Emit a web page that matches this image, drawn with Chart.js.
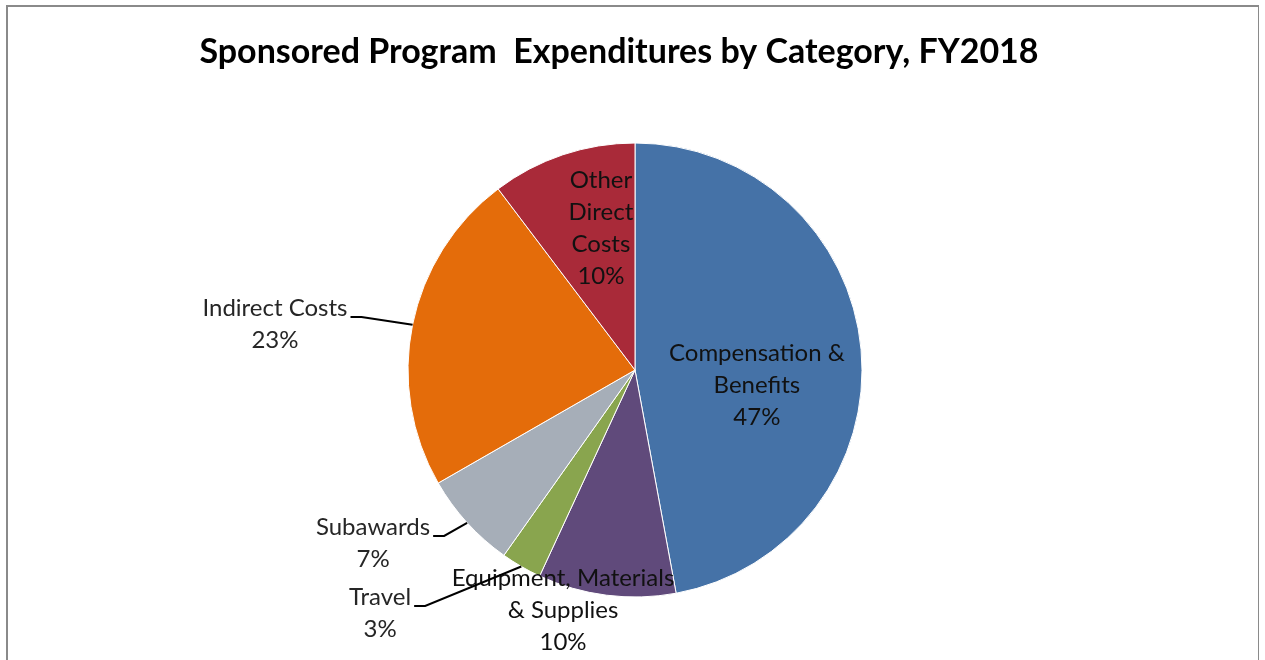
<!DOCTYPE html>
<html>
<head>
<meta charset="utf-8">
<script src="https://cdn.jsdelivr.net/npm/chart.js@4"></script>
<style>
  body { margin: 0; background: #fff; overflow: hidden; }
  #frame {
    position: absolute; left: 6px; top: 5px; width: 1250px; height: 700px;
    border-left: 2px solid #8a8a8a; border-top: 2px solid #8a8a8a; border-right: 1px solid #8a8a8a;
  }
  canvas { position: absolute; left: 0; top: 0; }
</style>
</head>
<body>
<div id="frame"></div>
<canvas id="pie" width="1265" height="660"></canvas>
<script>
var title = "Sponsored Program  Expenditures by Category, FY2018";

// clockwise from 12 o'clock
var categories = [
    ["Compensation &", "Benefits"],
    ["Equipment, Materials", "& Supplies"],
    ["Travel"],
    ["Subawards"],
    ["Indirect Costs"],
    ["Other", "Direct", "Costs"]
];
var shares = [47.1, 9.8, 2.9, 6.9, 23.0, 10.3];
var colors = [
    "#4572A7",//compensation
    "#604A7B",//equipment
    "#89A54E",//travel
    "#A6AEB8",//subawards
    "#E46C0A",//indirect
    "#A92A39" //other
];

// label placement relative to pie centre, in radii; leader = draw a line to the slice
var placement = [
    {x: 0.537, y: 0.066, leader: false},
    {x: -0.317, y: 1.057, leader: false},
    {x: -1.123, y: 1.070, leader: true},
    {x: -1.154, y: 0.762, leader: true},
    {x: -1.586, y: -0.203, leader: true},
    {x: -0.150, y: -0.623, leader: false}
];

var labelFont = "24px Lato";
var lineH = 32;

var pieLabels = {
    id: "pieLabels",
    afterDatasetsDraw: function(chart) {
        var c = chart.ctx;
        var meta = chart.getDatasetMeta(0);
        var total = shares.reduce(function(a, b) { return a + b; }, 0);
        c.save();
        c.font = labelFont;
        c.textAlign = "center";
        c.textBaseline = "middle";
        meta.data.forEach(function(arc, i) {
            var p = placement[i];
            var r = arc.outerRadius;
            var lines = categories[i].concat([Math.round(shares[i] / total * 100) + "%"]);
            var cx = arc.x + p.x * r;
            var cy = arc.y + p.y * r;
            var y0 = cy - (lines.length - 1) * lineH / 2;
            c.fillStyle = p.leader ? "#262626" : "#111";
            lines.forEach(function(t, k) {
                c.fillText(t, cx, y0 + k * lineH);
            });
            if (p.leader) {
                var w = c.measureText(lines[0]).width;
                var sx = cx + w / 2 + 3;
                var sy = y0 + 9;
                var mid = (arc.startAngle + arc.endAngle) / 2;
                var ex = arc.x + Math.cos(mid) * r;
                var ey = arc.y + Math.sin(mid) * r;
                c.strokeStyle = "#000";
                c.lineWidth = 2;
                c.beginPath();
                c.moveTo(sx, sy);
                c.lineTo(sx + 11, sy);
                c.lineTo(ex, ey);
                c.stroke();
            }
        });
        c.font = "bold 34px Lato";
        c.fillStyle = "#000";
        c.textBaseline = "alphabetic";
        c.fillText(title, 619, 63);
        c.restore();
    }
};

var chart = new Chart(document.getElementById("pie"), {
    type: "pie",
    data: {
        labels: categories.map(function(l) { return l.join(" "); }),
        datasets: [{
            data: shares,
            backgroundColor: colors,
            borderColor: "#ffffff",
            borderWidth: 1,
            radius: 227
        }]
    },
    options: {
        responsive: false,
        animation: false,
        layout: { padding: { left: 100, right: 95, top: 120, bottom: 40 } },
        plugins: {
            legend: { display: false },
            title: { display: false },
            tooltip: { enabled: false }
        }
    },
    plugins: [pieLabels]
});
</script>
</body>
</html>
